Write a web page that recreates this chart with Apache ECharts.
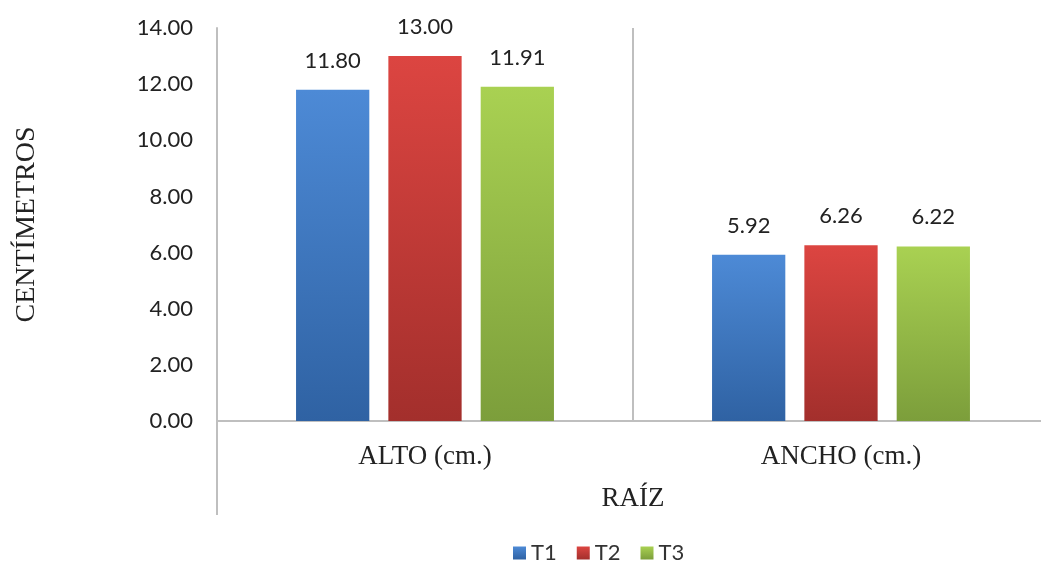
<!DOCTYPE html>
<html>
<head>
<meta charset="utf-8">
<script src="https://cdn.jsdelivr.net/npm/echarts@6/dist/echarts.min.js"></script>
<style>html,body{margin:0;padding:0;background:#fff}#c{width:1041px;height:562px}</style>
</head>
<body>
<div id="c"></div>
<script>
const categories = ['ALTO (cm.)', 'ANCHO (cm.)'];
const groupLabel = ['RAÍZ'];
const seriesNames = ['T1', 'T2', 'T3'];
const t1 = [11.80, 5.92];
const t2 = [13.00, 6.26];
const t3 = [11.91, 6.22];
const yTicks = { min: 0, max: 14, interval: 2 };

const colors = [
  ['#4d8ad6', '#2f62a3'],
  ['#dc4541', '#a32f2c'],
  ['#a9d152', '#7c9e3b']
];
const sans = 'Lato';
const serif = 'Liberation Serif';

function grad(c) {
  return new echarts.graphic.LinearGradient(0, 0, 0, 1, [
    { offset: 0, color: c[0] }, { offset: 1, color: c[1] }
  ]);
}

const chart = echarts.init(document.getElementById('c'));
const values = [t1, t2, t3];
chart.setOption({
  animation: false,
  color: colors.map(c => c[0]),
  grid: { left: 217, width: 832, top: 28, bottom: 141, outerBoundsMode: 'none', containLabel: false },
  legend: {
    data: seriesNames.map((n, i) => ({ name: n, itemStyle: { color: grad(colors[i]) } })),
    left: 508, top: 537, itemWidth: 13, itemHeight: 13, itemGap: 20,
    icon: 'rect',
    textStyle: { fontFamily: sans, fontSize: 22, color: '#333' }
  },
  xAxis: [
    {
      type: 'category', data: categories, position: 'bottom',
      axisLine: { lineStyle: { color: '#bfbfbf', width: 2 } },
      axisTick: { show: false },
      splitLine: { show: true, interval: 0, lineStyle: { color: '#bfbfbf', width: 2 } },
      axisLabel: { fontFamily: serif, fontSize: 27, color: '#222', margin: 22 }
    },
    {
      type: 'category', data: groupLabel, position: 'bottom', offset: 64,
      axisLine: { show: false }, axisTick: { show: false },
      axisLabel: { fontFamily: serif, fontSize: 27, color: '#222', margin: 0 }
    }
  ],
  yAxis: {
    type: 'value', min: yTicks.min, max: yTicks.max, interval: yTicks.interval,
    name: 'CENTÍMETROS', nameLocation: 'middle', nameGap: 176, nameRotate: 90,
    nameTextStyle: { fontFamily: serif, fontSize: 28, color: '#222' },
    axisLine: { show: true, lineStyle: { color: '#bfbfbf', width: 2 } },
    axisTick: { show: false },
    splitLine: { show: false },
    axisLabel: { fontFamily: sans, fontSize: 22, color: '#222', margin: 24, formatter: v => v.toFixed(2) }
  },
  graphic: [{
    type: 'line', shape: { x1: 217, y1: 421, x2: 217, y2: 515 },
    style: { stroke: '#bfbfbf', lineWidth: 2 }
  }],
  series: seriesNames.map((n, i) => ({
    name: n, type: 'bar', data: values[i],
    barGap: '26%', barCategoryGap: '38%',
    itemStyle: { color: grad(colors[i]) },
    label: {
      show: true, position: 'top', distance: 18,
      fontFamily: sans, fontSize: 22, color: '#222',
      formatter: p => p.value.toFixed(2)
    }
  }))
});
</script>
</body>
</html>
